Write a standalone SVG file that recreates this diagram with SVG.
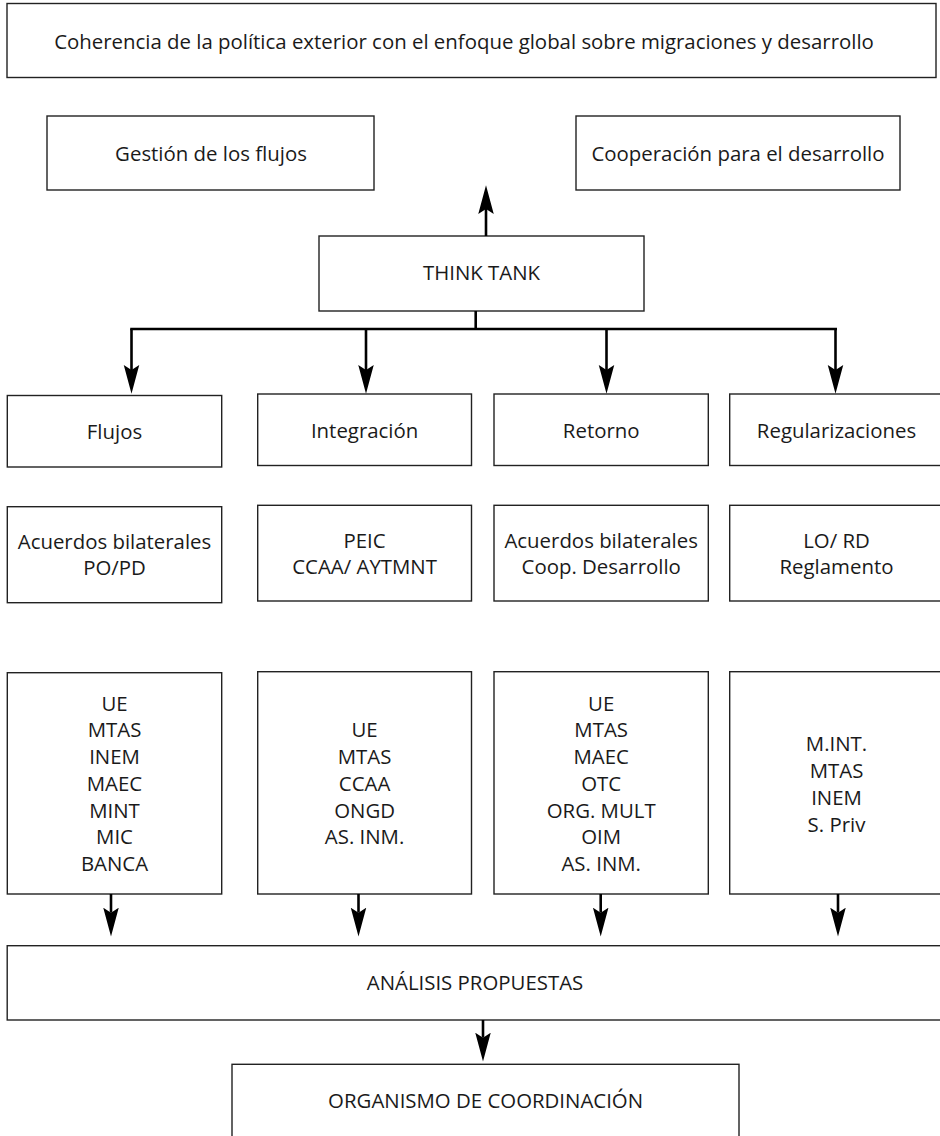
<svg xmlns="http://www.w3.org/2000/svg" width="940" height="1136" viewBox="0 0 940 1136">
<defs>
<style>
.box{fill:#fff;stroke:#222;stroke-width:1.4}
text{font-family:"Open Sans","Noto Sans","Liberation Sans",sans-serif;font-size:20.4px;fill:#1a1a1a;text-anchor:middle;dominant-baseline:central}
.con{stroke:#000;stroke-width:2.6;fill:none}
.arr{marker-end:url(#ah)}
</style>
<marker id="ah" markerUnits="userSpaceOnUse" markerWidth="30" markerHeight="20" viewBox="0 -8 24 16" refX="4" refY="0" orient="auto">
<path d="M0,-6.2 L23,0 L0,6.2 L4,0 z" fill="#000"/>
</marker>
</defs>
<rect width="940" height="1136" fill="#fff"/>

<g id="n-coherencia"><rect class="box" x="7" y="3.5" width="929" height="74"/><text x="464" y="41">Coherencia de la política exterior con el enfoque global sobre migraciones y desarrollo</text></g>
<g id="n-gestion"><rect class="box" x="47" y="116" width="327" height="74"/><text x="211" y="153">Gestión de los flujos</text></g>
<g id="n-cooperacion"><rect class="box" x="576" y="116" width="324" height="74"/><text x="738" y="153">Cooperación para el desarrollo</text></g>
<g id="n-thinktank"><rect class="box" x="319" y="236" width="325" height="75"/><text x="481.5" y="272">THINK TANK</text></g>

<g id="n-flujos"><rect class="box" x="7.3" y="395.5" width="214.4" height="71.5"/><text x="114.5" y="431">Flujos</text></g>
<g id="n-integracion"><rect class="box" x="257.7" y="394" width="213.8" height="71.5"/><text x="364.6" y="429.5">Integración</text></g>
<g id="n-retorno"><rect class="box" x="494" y="394" width="214.3" height="71.5"/><text x="601.2" y="429.5">Retorno</text></g>
<g id="n-regularizaciones"><rect class="box" x="729.7" y="394" width="220" height="71.5"/><text x="836.5" y="429.5">Regularizaciones</text></g>

<g id="n-acuerdos1"><rect class="box" x="7.3" y="506.7" width="214.4" height="96"/><text x="114.5" y="541">Acuerdos bilaterales</text><text x="114.5" y="567">PO/PD</text></g>
<g id="n-peic"><rect class="box" x="257.7" y="505.3" width="213.8" height="95.7"/><text x="364.6" y="540">PEIC</text><text x="364.6" y="566">CCAA/ AYTMNT</text></g>
<g id="n-acuerdos2"><rect class="box" x="494" y="505.3" width="214.3" height="95.7"/><text x="601.2" y="540">Acuerdos bilaterales</text><text x="601.2" y="566">Coop. Desarrollo</text></g>
<g id="n-lord"><rect class="box" x="729.7" y="505.3" width="220" height="95.7"/><text x="836.5" y="540">LO/ RD</text><text x="836.5" y="566">Reglamento</text></g>

<g id="n-actores1"><rect class="box" x="7.3" y="672.7" width="214.4" height="221.3"/>
<text x="114.5" y="702.7">UE</text><text x="114.5" y="729.4">MTAS</text><text x="114.5" y="756.1">INEM</text><text x="114.5" y="782.8">MAEC</text><text x="114.5" y="809.5">MINT</text><text x="114.5" y="836.2">MIC</text><text x="114.5" y="862.9">BANCA</text></g>
<g id="n-actores2"><rect class="box" x="257.7" y="671.7" width="213.8" height="222.3"/>
<text x="364.6" y="729.4">UE</text><text x="364.6" y="756.1">MTAS</text><text x="364.6" y="782.8">CCAA</text><text x="364.6" y="809.5">ONGD</text><text x="364.6" y="836.2">AS. INM.</text></g>
<g id="n-actores3"><rect class="box" x="494" y="671.7" width="214.3" height="222.3"/>
<text x="601.2" y="702.7">UE</text><text x="601.2" y="729.4">MTAS</text><text x="601.2" y="756.1">MAEC</text><text x="601.2" y="782.8">OTC</text><text x="601.2" y="809.5">ORG. MULT</text><text x="601.2" y="836.2">OIM</text><text x="601.2" y="862.9">AS. INM.</text></g>
<g id="n-actores4"><rect class="box" x="729.7" y="671.7" width="220" height="222.3"/>
<text x="836.5" y="743.4">M.INT.</text><text x="836.5" y="770.1">MTAS</text><text x="836.5" y="796.8">INEM</text><text x="836.5" y="823.5">S. Priv</text></g>

<g id="n-analisis"><rect class="box" x="7.2" y="945.7" width="945" height="74.3"/><text x="475" y="982">ANÁLISIS PROPUESTAS</text></g>
<g id="n-organismo"><rect class="box" x="232" y="1064.3" width="507" height="90"/><text x="485.6" y="1100">ORGANISMO DE COORDINACIÓN</text></g>

<g id="connectors">
<line class="con arr" x1="486" y1="236" x2="486" y2="209"/>
<line class="con" x1="475.7" y1="311" x2="475.7" y2="329"/>
<line class="con" x1="130.2" y1="329" x2="837" y2="329"/>
<line class="con arr" x1="131.5" y1="329" x2="131.5" y2="370"/>
<line class="con arr" x1="366" y1="329" x2="366" y2="370"/>
<line class="con arr" x1="606.5" y1="329" x2="606.5" y2="370"/>
<line class="con arr" x1="835.5" y1="329" x2="835.5" y2="370"/>
<line class="con arr" x1="111" y1="894" x2="111" y2="912.7"/>
<line class="con arr" x1="358.5" y1="894" x2="358.5" y2="912.7"/>
<line class="con arr" x1="600.7" y1="894" x2="600.7" y2="912.7"/>
<line class="con arr" x1="838" y1="894" x2="838" y2="912.7"/>
<line class="con arr" x1="483" y1="1020" x2="483" y2="1037.7"/>
</g>
</svg>
